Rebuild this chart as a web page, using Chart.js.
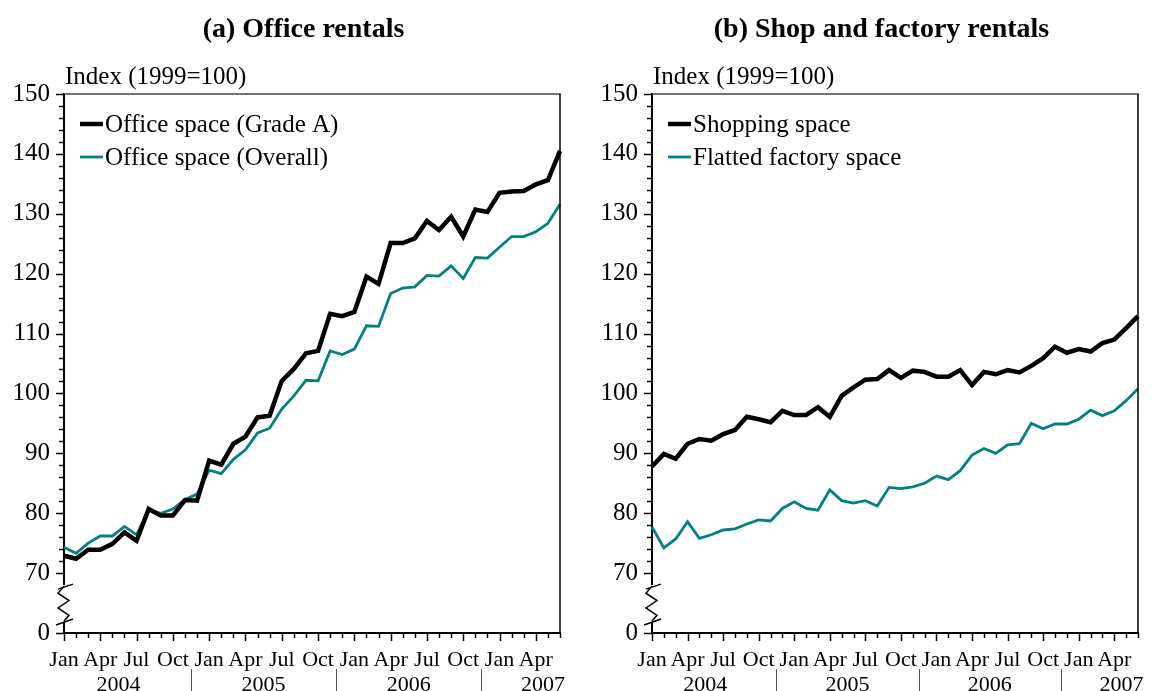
<!DOCTYPE html>
<html>
<head>
<meta charset="utf-8">
<script src="https://cdn.jsdelivr.net/npm/chart.js@4/dist/chart.umd.min.js"></script>
<style>
  html, body { margin: 0; padding: 0; background: #fff; }
  #wrap { position: relative; width: 1152px; height: 691px; overflow: hidden; }
  canvas { position: absolute; top: 0; }
</style>
</head>
<body>
<div id="wrap">
  <canvas id="cA" width="580" height="691" style="left:0px"></canvas>
  <canvas id="cB" width="564" height="691" style="left:588px"></canvas>
</div>
<script>
// ---- Data (monthly, Jan 2004 - Jun 2007) ----
const months = ['Jan','Feb','Mar','Apr','May','Jun','Jul','Aug','Sep','Oct','Nov','Dec'];
const categories = [];
for (let yr = 2004; yr <= 2007; yr++) {
  for (let m = 0; m < 12; m++) {
    if (yr === 2007 && m > 5) break;
    categories.push(months[m] + ' ' + yr);
  }
}
const yearLabels = ['2004', '2005', '2006', '2007'];
const yTickLabels = ['0', '70', '80', '90', '100', '110', '120', '130', '140', '150'];

const officeGradeA = [72.9,72.4,73.9,73.9,74.9,76.8,75.4,80.7,79.6,79.6,82.2,82.1,
  88.8,88.1,91.6,92.8,96.0,96.3,102.1,104.1,106.7,107.1,113.3,112.9,
  113.6,119.5,118.3,125.1,125.1,125.9,128.8,127.3,129.5,126.2,130.7,130.3,
  133.5,133.7,133.8,134.9,135.6,140.5];
const officeOverall = [74.3,73.3,75.0,76.2,76.2,77.8,76.4,80.6,80.0,80.7,82.3,83.2,
  87.2,86.6,89.0,90.6,93.4,94.2,97.4,99.6,102.2,102.1,107.1,106.5,
  107.4,111.3,111.2,116.7,117.6,117.8,119.7,119.6,121.3,119.2,122.7,122.6,
  124.4,126.2,126.2,127.0,128.4,131.6];
const shoppingSpace = [87.8,89.9,89.1,91.6,92.4,92.1,93.2,93.9,96.1,95.7,95.2,97.1,
  96.4,96.4,97.7,96.1,99.6,101.0,102.3,102.4,103.9,102.6,103.8,103.6,
  102.8,102.8,103.9,101.4,103.6,103.2,103.9,103.5,104.6,105.9,107.8,106.8,
  107.4,107.0,108.4,109.0,110.9,112.9];
const flattedFactory = [77.7,74.2,75.7,78.6,75.8,76.4,77.2,77.4,78.2,78.9,78.7,80.8,
  81.9,80.8,80.5,83.9,82.1,81.7,82.1,81.2,84.3,84.1,84.4,85.0,
  86.2,85.6,87.1,89.7,90.8,90.0,91.4,91.6,95.0,94.1,94.9,94.9,
  95.7,97.2,96.3,97.1,98.8,100.8];

const SERIF = '"Liberation Serif", "Times New Roman", serif';
const TEAL = '#00827F';

const decor = {
  id: 'decor',
  afterDraw(chart, args, o) {
    const ctx = chart.ctx;
    const {left, right, top, bottom} = chart.chartArea;
    const x = chart.scales.x, y = chart.scales.y;
    const line = (x1, y1, x2, y2) => { ctx.beginPath(); ctx.moveTo(x1, y1); ctx.lineTo(x2, y2); ctx.stroke(); };
    ctx.save();
    // frame top / right
    ctx.strokeStyle = '#444'; ctx.lineWidth = 1.5;
    line(left, top, right + 0.75, top);
    ctx.strokeStyle = '#000';
    line(right, top, right, bottom);
    // y ticks
    ctx.strokeStyle = '#000'; ctx.lineWidth = 1.5;
    for (let v = 70; v <= 150; v += 2) {
      const py = Math.round(y.getPixelForValue(v)) + 0.5;
      const len = (v % 10 === 0) ? 8 : 5;
      line(left - len, py, left, py);
    }
    const p60 = y.getPixelForValue(60);
    line(left - 8, Math.round(p60) + 0.5, left, Math.round(p60) + 0.5);
    // x ticks
    for (let i = 0; i < categories.length; i++) {
      const px = Math.round(x.getPixelForValue(i)) + 0.5;
      const len = (i % 3 === 0) ? 8 : 5;
      line(px, bottom, px, bottom + len);
    }
    // axis break
    const p70 = y.getPixelForValue(70);
    const bTop = p70 + 12, bBot = p60 - 11;
    ctx.fillStyle = '#fff';
    ctx.fillRect(left - 4, bTop, 8, bBot - bTop);
    ctx.strokeStyle = '#000'; ctx.lineWidth = 1.5;
    line(left - 6, bTop + 4, left + 9, bTop - 1);
    ctx.beginPath();
    const h = (bBot - bTop);
    ctx.moveTo(left, bTop + 1);
    ctx.lineTo(left - 6, bTop + h * 0.22);
    ctx.lineTo(left + 5, bTop + h * 0.42);
    ctx.lineTo(left - 6, bTop + h * 0.62);
    ctx.lineTo(left + 5, bTop + h * 0.82);
    ctx.lineTo(left, bBot - 1);
    ctx.stroke();
    line(left - 8, bBot + 3, left + 9, bBot - 3);
    // year labels and separators
    ctx.fillStyle = '#000';
    ctx.font = '22px ' + SERIF;
    ctx.textAlign = 'center'; ctx.textBaseline = 'middle';
    const yearPos = [4.5, 16.5, 28.5, 39.6];
    yearLabels.forEach((t, k) => ctx.fillText(t, x.getPixelForValue(yearPos[k]), 685));
    ctx.strokeStyle = '#555'; ctx.lineWidth = 1;
    [10.5, 22.5, 34.5].forEach(v => {
      const px = Math.round(x.getPixelForValue(v)) + 0.5;
      line(px, 669, px, 691);
    });
    // title
    ctx.fillStyle = '#000';
    ctx.font = 'bold 28px ' + SERIF;
    ctx.textAlign = 'center';
    ctx.fillText(o.title, o.titleX, 30);
    // unit label
    ctx.font = '25px ' + SERIF;
    ctx.textAlign = 'left';
    ctx.fillText('Index (1999=100)', left + 1, 77);
    // legend
    chart.data.datasets.forEach((ds, k) => {
      const ly = 124 + k * 33;
      ctx.strokeStyle = ds.borderColor; ctx.lineWidth = ds.borderWidth;
      line(left + 16, ly, left + 39, ly);
      ctx.fillStyle = '#000';
      ctx.fillText(ds.label, left + 41, ly + 1);
    });
    ctx.restore();
  }
};

function makeChart(id, s1, s2, title, titleX, padRight) {
  return new Chart(document.getElementById(id), {
    type: 'line',
    data: {
      labels: categories,
      datasets: [
        { label: s1.label, data: s1.data, borderColor: '#000', borderWidth: 4.5, pointRadius: 0, tension: 0, borderJoinStyle: 'miter', fill: false },
        { label: s2.label, data: s2.data, borderColor: TEAL, borderWidth: 2.8, pointRadius: 0, tension: 0, borderJoinStyle: 'miter', fill: false }
      ]
    },
    options: {
      responsive: false,
      animation: false,
      devicePixelRatio: 1,
      layout: { padding: { left: 0, right: padRight, top: 94, bottom: 0 } },
      plugins: { legend: { display: false }, tooltip: { enabled: false }, title: { display: false }, decor: { title: title, titleX: titleX } },
      scales: {
        x: {
          type: 'category',
          offset: false,
          grid: { display: false, drawTicks: false },
          border: { display: true, color: '#000', width: 2 },
          ticks: {
            autoSkip: false, maxRotation: 0, minRotation: 0, padding: 14,
            color: '#000', font: { family: SERIF, size: 22 },
            callback: (v, i) => (i % 3 === 0) ? categories[i].split(' ')[0] : ''
          },
          afterFit: (s) => { s.height = 58; }
        },
        y: {
          type: 'linear', min: 60, max: 150,
          grid: { display: false, drawTicks: false },
          border: { display: true, color: '#000', width: 2 },
          ticks: {
            stepSize: 10, autoSkip: false, padding: 14,
            color: '#000', font: { family: SERIF, size: 25 },
            callback: (v) => yTickLabels[(v - 60) / 10]
          },
          afterFit: (s) => { s.width = 64; }
        }
      }
    },
    plugins: [decor]
  });
}

makeChart('cA', { label: 'Office space (Grade A)', data: officeGradeA }, { label: 'Office space (Overall)', data: officeOverall }, '(a) Office rentals', 303.5, 20);
makeChart('cB', { label: 'Shopping space', data: shoppingSpace }, { label: 'Flatted factory space', data: flattedFactory }, '(b) Shop and factory rentals', 293.5, 6);
</script>
</body>
</html>
